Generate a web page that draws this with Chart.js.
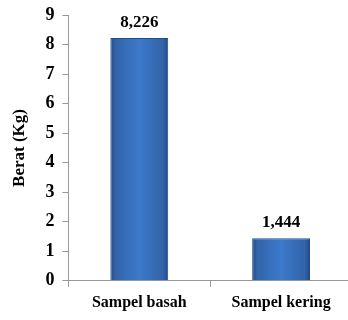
<!DOCTYPE html>
<html>
<head>
<meta charset="utf-8">
<script src="https://cdn.jsdelivr.net/npm/chart.js@4"></script>
<style>
  html, body { margin: 0; padding: 0; background: #fff; overflow: hidden; }
  #wrap { width: 352px; height: 320px; }
</style>
</head>
<body>
<div id="wrap"><canvas id="chart" width="352" height="320"></canvas></div>
<script>
// ====== Data ======
const categories = ["Sampel basah", "Sampel kering"];
const berat = [8.226, 1.444];
const valueLabels = ["8,226", "1,444"];
const yTicks = [0, 1, 2, 3, 4, 5, 6, 7, 8, 9];

const FONT = "'Liberation Serif', 'Times New Roman', serif";
const CAT_PCT = 0.8, BAR_PCT = 0.51;

// ====== Bar gradient (bevel look) ======
function barFill(ctx) {
  const chart = ctx.chart;
  const xs = chart.scales.x;
  if (!chart.chartArea || !xs || ctx.dataIndex === undefined) return "#3a75c4";
  const cx = xs.getPixelForValue(ctx.dataIndex);
  const w = (xs.width / categories.length) * CAT_PCT * BAR_PCT;
  const g = chart.ctx.createLinearGradient(cx - w / 2, 0, cx + w / 2, 0);
  g.addColorStop(0, "#23497f");
  g.addColorStop(0.08, "#3163a8");
  g.addColorStop(0.5, "#3c7acb");
  g.addColorStop(0.92, "#3163a8");
  g.addColorStop(1, "#21457a");
  return g;
}

// ====== Value labels ======
const valuePlugin = {
  id: "valueLabels",
  afterDatasetsDraw(chart) {
    const c = chart.ctx;
    const meta = chart.getDatasetMeta(0);
    c.save();
    c.font = "bold 17px " + FONT;
    c.fillStyle = "#000";
    c.textAlign = "center";
    c.textBaseline = "bottom";
    meta.data.forEach((bar, i) => {
      c.fillText(valueLabels[i], bar.x, bar.y - 7);
    });
    c.restore();
  }
};

new Chart(document.getElementById("chart"), {
  type: "bar",
  data: {
    labels: categories,
    datasets: [{
      data: berat,
      backgroundColor: barFill,
      borderColor: "#244c86",
      borderWidth: 1,
      categoryPercentage: CAT_PCT,
      barPercentage: BAR_PCT
    }]
  },
  options: {
    responsive: false,
    animation: false,
    layout: { padding: { top: 0, right: 0, left: 9, bottom: 2 } },
    plugins: { legend: { display: false }, tooltip: { enabled: false } },
    scales: {
      x: {
        grid: { drawOnChartArea: false, drawTicks: true, tickLength: 6, color: "#999", offset: true },
        border: { display: true, color: "#999" },
        ticks: { color: "#000", font: { family: FONT, size: 16, weight: "bold" }, padding: 6 }
      },
      y: {
        min: 0,
        max: 9,
        afterBuildTicks: (s) => { s.ticks = yTicks.map(v => ({ value: v })); },
        grid: { drawOnChartArea: false, drawTicks: true, tickLength: 6, color: "#999" },
        border: { display: true, color: "#999" },
        ticks: { color: "#000", font: { family: FONT, size: 18, weight: "bold", lineHeight: 0.8 }, padding: 8 },
        title: { display: true, text: "Berat (Kg)", color: "#000", font: { family: FONT, size: 17, weight: "bold" }, padding: { top: 0, bottom: 8 } }
      }
    }
  },
  plugins: [valuePlugin]
});
</script>
</body>
</html>
